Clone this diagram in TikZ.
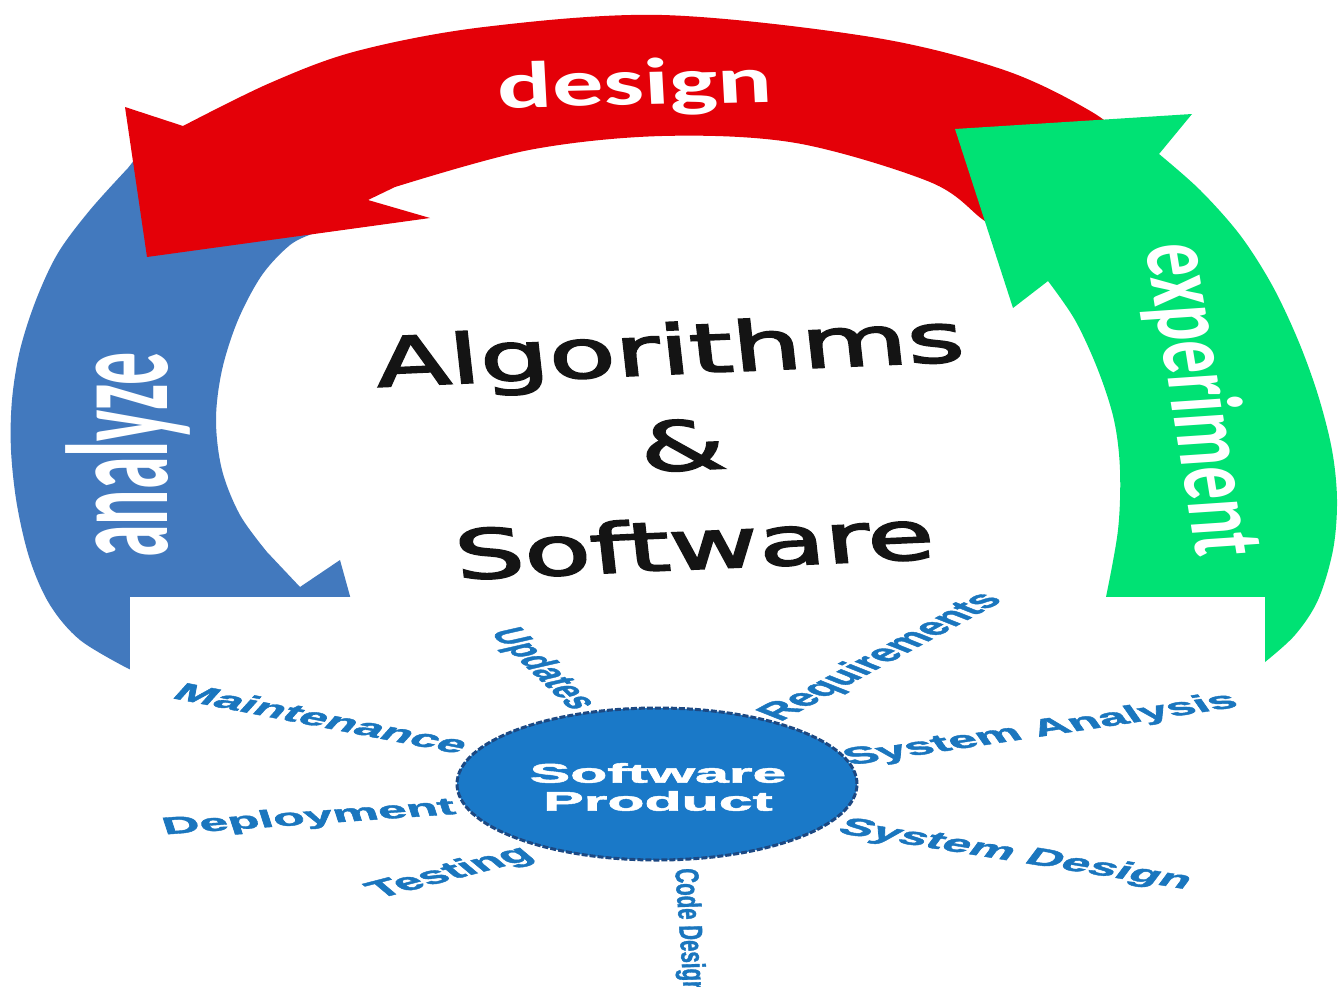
\documentclass[tikz,border=0pt]{standalone}
\usepackage{fontspec}
\usetikzlibrary{shapes.geometric}
\newfontfamily\carl{Carlito}
\newfontfamily\dvs{DejaVu Sans}[FakeBold=2.5]
\newfontfamily\arl{Liberation Sans}[BoldFeatures={FakeBold=1.5}]
\definecolor{redc}{RGB}{228,0,8}
\definecolor{bluec}{RGB}{66,121,190}
\definecolor{greenc}{RGB}{0,226,116}
\definecolor{lblblue}{RGB}{26,118,190}
\definecolor{prodfill}{RGB}{26,121,200}
\definecolor{prodedge}{RGB}{28,72,130}
\begin{document}
\begin{tikzpicture}[x=1pt,y=-1pt,
  ringtxt/.style={text=white, inner sep=0pt, font=\carl\bfseries\fontsize{66}{70}\selectfont},
  midtxt/.style={text=black!92, inner sep=0pt, font=\dvs\fontsize{68}{80}\selectfont, xscale=1.6, anchor=base},
  lbl/.style={text=lblblue, inner sep=0pt, font=\arl\bfseries\fontsize{24}{26}\selectfont},
  lblx/.style={lbl, xscale=2.15},
]
\useasboundingbox (0,0) rectangle (1344,986);
\clip (0,0) rectangle (1344,986);
\fill[white] (0,0) rectangle (1344,986);

% blue arrow (analyze)
\fill[bluec] (150,140)
  -- plot[smooth, tension=0.55] coordinates {(128,168) (90,210) (58,253) (36,300) (20,350) (12,400) (11,450) (17,505) (30,560) (50,605) (80,640) (127,668)}
  -- (220,710) -- (358,625) -- (340,560) -- (300,587)
  -- plot[smooth, tension=0.55] coordinates {(267,552) (240,515) (222,470) (216,420) (222,370) (238,320) (262,275) (290,245) (312,234)}
  -- (345,215) -- cycle;

% red arrow (design)
\fill[redc] (125,107)
  -- plot[smooth, tension=0.55] coordinates {(183,126) (270,83) (357,51) (484,27) (662,15) (871,37) (1004,70) (1092,112) (1140,150)}
  -- plot[smooth, tension=0.55] coordinates {(1010,240) (982,219) (930,182) (796,143) (662,136) (529,150) (395,187)}
  -- (368,200) -- (430,218) -- (147,257) -- cycle;

% green arrow (experiment)
\fill[greenc] (955,129) -- (1192,114)
  -- plot[smooth, tension=0.55] coordinates {(1159,154) (1200,190) (1240,235) (1272,285) (1298,340) (1318,395) (1332,450) (1337,500) (1333,550) (1318,600) (1295,635) (1265,662)}
  -- (1200,700) -- (1090,680)
  -- plot[smooth, tension=0.55] coordinates {(1106,597) (1118,530) (1120,470) (1114,420) (1098,370) (1075,320) (1048,281)}
  -- (1013,308) -- cycle;

\node[ringtxt, xscale=1.55, rotate=2, anchor=base] (tdesign) at (636,105) {design};
\node[ringtxt, xscale=2.2, rotate=90] (tanalyze) at (128,455) {analyze};
\node[ringtxt, xscale=1.55, rotate=-84] (texper) at (1199,400) {experiment};

\node[midtxt, rotate=4] (talg) at (672,374) {Algorithms};
\node[midtxt, rotate=4] (tamp) at (685,470) {\&};
\node[midtxt, rotate=4] (tsoft) at (697,569) {Software};

% lower picture
\fill[white] (130,597) rectangle (1265,986);
\node[ellipse, fill=prodfill, draw=prodedge, line width=3pt, dash pattern=on 6pt off 2pt,
      minimum width=400pt, minimum height=152pt, inner sep=0pt] (prod) at (657,784) {};
\node[lbl, text=white, font=\arl\bfseries\fontsize{27}{28}\selectfont, xscale=2.25, align=center] (prodtxt) at (658,787) {Software\\Product};

\node[lblx, rotate=-22.7] (lmaint) at (322,718) {Maintenance};
\node[lbl, font=\arl\bfseries\fontsize{22}{24}\selectfont, xscale=2.15, rotate=-64] (lupd) at (542,669) {Updates};
\node[lblx, rotate=8.6] (ldep) at (309,818) {Deployment};
\node[lblx, rotate=29] (ltest) at (451,873) {Testing};
\node[lbl, font=\arl\bfseries\fontsize{20.5}{22}\selectfont, xscale=1.6, rotate=-87.5] (lcode) at (688,931) {Code Design};
\node[lblx, rotate=49.5] (lreq) at (882,657) {Requirements};
\node[lblx, rotate=18] (lsysa) at (1041,730) {System Analysis};
\node[lblx, rotate=-19.2] (lsysd) at (1015,855) {System Design};
\end{tikzpicture}
\end{document}
